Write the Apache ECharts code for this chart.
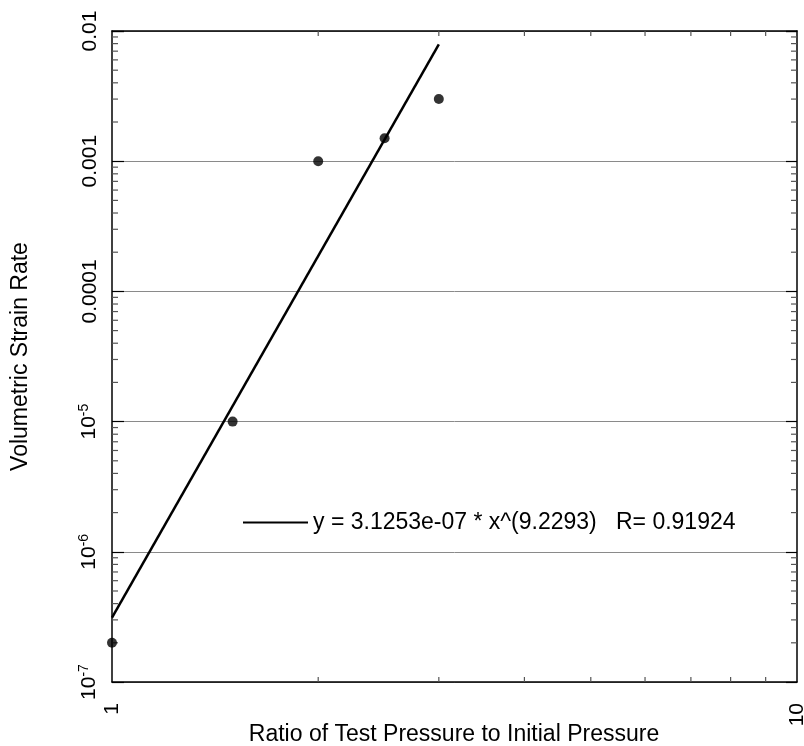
<!DOCTYPE html>
<html>
<head>
<meta charset="utf-8">
<script src="https://cdn.jsdelivr.net/npm/echarts@6/dist/echarts.min.js"></script>
<style>
  html, body { margin: 0; padding: 0; background: #fff; }
  #chart { width: 804px; height: 746px; }
</style>
</head>
<body>
<div id="chart"></div>
<script>
// measured points
const ratio = [1, 1.5, 2, 2.5, 3]
const strainRate = [2e-7, 1e-5, 1e-3, 1.5e-3, 3e-3]

// power-law fit, end points
const fitX = [1, 3]
const fitY = [3.1253e-7, 7.9e-3]
const fitName = 'y = 3.1253e-07 * x^(9.2293)   R= 0.91924'

// tick labels
const xTickLabels = ['1', '10']
const yTickLabels = ['{b|10}{s|-7}', '{b|10}{s|-6}', '{b|10}{s|-5}', '0.0001', '0.001', '0.01']
const minorSteps = [2, 3, 4, 5, 6, 7, 8, 9]
const yDecades = [1e-7, 1e-6, 1e-5, 1e-4, 1e-3]

const font = 'Liberation Sans, Arial, Helvetica, sans-serif'

const minorY = []
yDecades.forEach(d => minorSteps.forEach(s => minorY.push([1, s * d])))
const minorX = minorSteps.map(s => [s, 1e-7])

const axisLine = { lineStyle: { color: '#000', width: 1.5 } }

const option = {
  animation: false,
  backgroundColor: '#fff',
  grid: { left: 112, right: 7, top: 31, bottom: 64, containLabel: false, outerBoundsMode: 'none' },
  legend: {
    left: 238, top: 506,
    itemWidth: 65, itemHeight: 2, itemGap: 0,
    icon: 'rect',
    data: [fitName],
    textStyle: { fontFamily: font, fontSize: 23, color: '#000' }
  },
  // x axis title, centred under the plot
  graphic: [{
    type: 'text', x: 454, y: 735,
    style: {
      text: 'Ratio of Test Pressure to Initial Pressure',
      font: '23px ' + font, fill: '#000', align: 'center', verticalAlign: 'middle'
    }
  }],
  xAxis: [
    {
      type: 'log', logBase: 10, min: 1, max: 10,
      axisLine: axisLine,
      axisTick: { show: false },
      splitLine: { show: false },
      axisLabel: {
        rotate: 90, margin: 21, fontFamily: font, fontSize: 21, color: '#000',
        formatter: (v, i) => xTickLabels[i]
      }
    },
    {
      type: 'log', logBase: 10, min: 1, max: 10, position: 'top',
      axisLine: axisLine, axisTick: { show: false }, axisLabel: { show: false }, splitLine: { show: false }
    }
  ],
  yAxis: [
    {
      type: 'log', logBase: 10, min: 1e-7, max: 1e-2,
      name: 'Volumetric Strain Rate',
      nameLocation: 'middle', nameGap: 80,
      nameTextStyle: { fontFamily: font, fontSize: 23, color: '#000' },
      axisLine: axisLine,
      axisTick: { show: true, inside: true, length: 12, lineStyle: { color: '#000', width: 1.2 } },
      splitLine: { show: true, lineStyle: { color: '#8a8a8a', width: 1 } },
      axisLabel: {
        rotate: 90, margin: 11, fontFamily: font, fontSize: 21, color: '#000',
        formatter: (v, i) => yTickLabels[i],
        rich: {
          b: { fontFamily: font, fontSize: 21, color: '#000' },
          s: { fontFamily: font, fontSize: 14, color: '#000', verticalAlign: 'top', padding: [0, 0, 10, 0] }
        }
      }
    },
    {
      type: 'log', logBase: 10, min: 1e-7, max: 1e-2, position: 'right',
      axisLine: axisLine,
      axisTick: { show: true, inside: true, length: 11, lineStyle: { color: '#000', width: 1.2 } },
      axisLabel: { show: false }, splitLine: { show: false }
    }
  ],
  series: [
    {
      type: 'custom',
      silent: true,
      data: minorY,
      renderItem: (params, api) => {
        const cs = params.coordSys
        const y = api.coord([1, api.value(1)])[1]
        return {
          type: 'group',
          children: [
            { type: 'line', shape: { x1: cs.x, y1: y, x2: cs.x + 6, y2: y }, style: { stroke: '#555', lineWidth: 1.2 } },
            { type: 'line', shape: { x1: cs.x + cs.width, y1: y, x2: cs.x + cs.width - 6, y2: y }, style: { stroke: '#555', lineWidth: 1.2 } }
          ]
        }
      }
    },
    {
      type: 'custom',
      silent: true,
      data: minorX,
      renderItem: (params, api) => {
        const cs = params.coordSys
        const x = api.coord([api.value(0), 1e-7])[0]
        return {
          type: 'group',
          children: [
            { type: 'line', shape: { x1: x, y1: cs.y, x2: x, y2: cs.y + 5 }, style: { stroke: '#555', lineWidth: 1.2 } },
            { type: 'line', shape: { x1: x, y1: cs.y + cs.height, x2: x, y2: cs.y + cs.height - 5 }, style: { stroke: '#555', lineWidth: 1.2 } }
          ]
        }
      }
    },
    {
      name: fitName,
      type: 'line',
      data: fitX.map((x, i) => [x, fitY[i]]),
      showSymbol: false,
      lineStyle: { color: '#000', width: 2.5 },
      itemStyle: { color: '#000' },
      z: 3
    },
    {
      type: 'scatter',
      data: ratio.map((x, i) => [x, strainRate[i]]),
      symbolSize: 10,
      itemStyle: { color: '#000' },
      z: 4
    }
  ]
}

const chart = echarts.init(document.getElementById('chart'))
chart.setOption(option)
</script>
</body>
</html>
